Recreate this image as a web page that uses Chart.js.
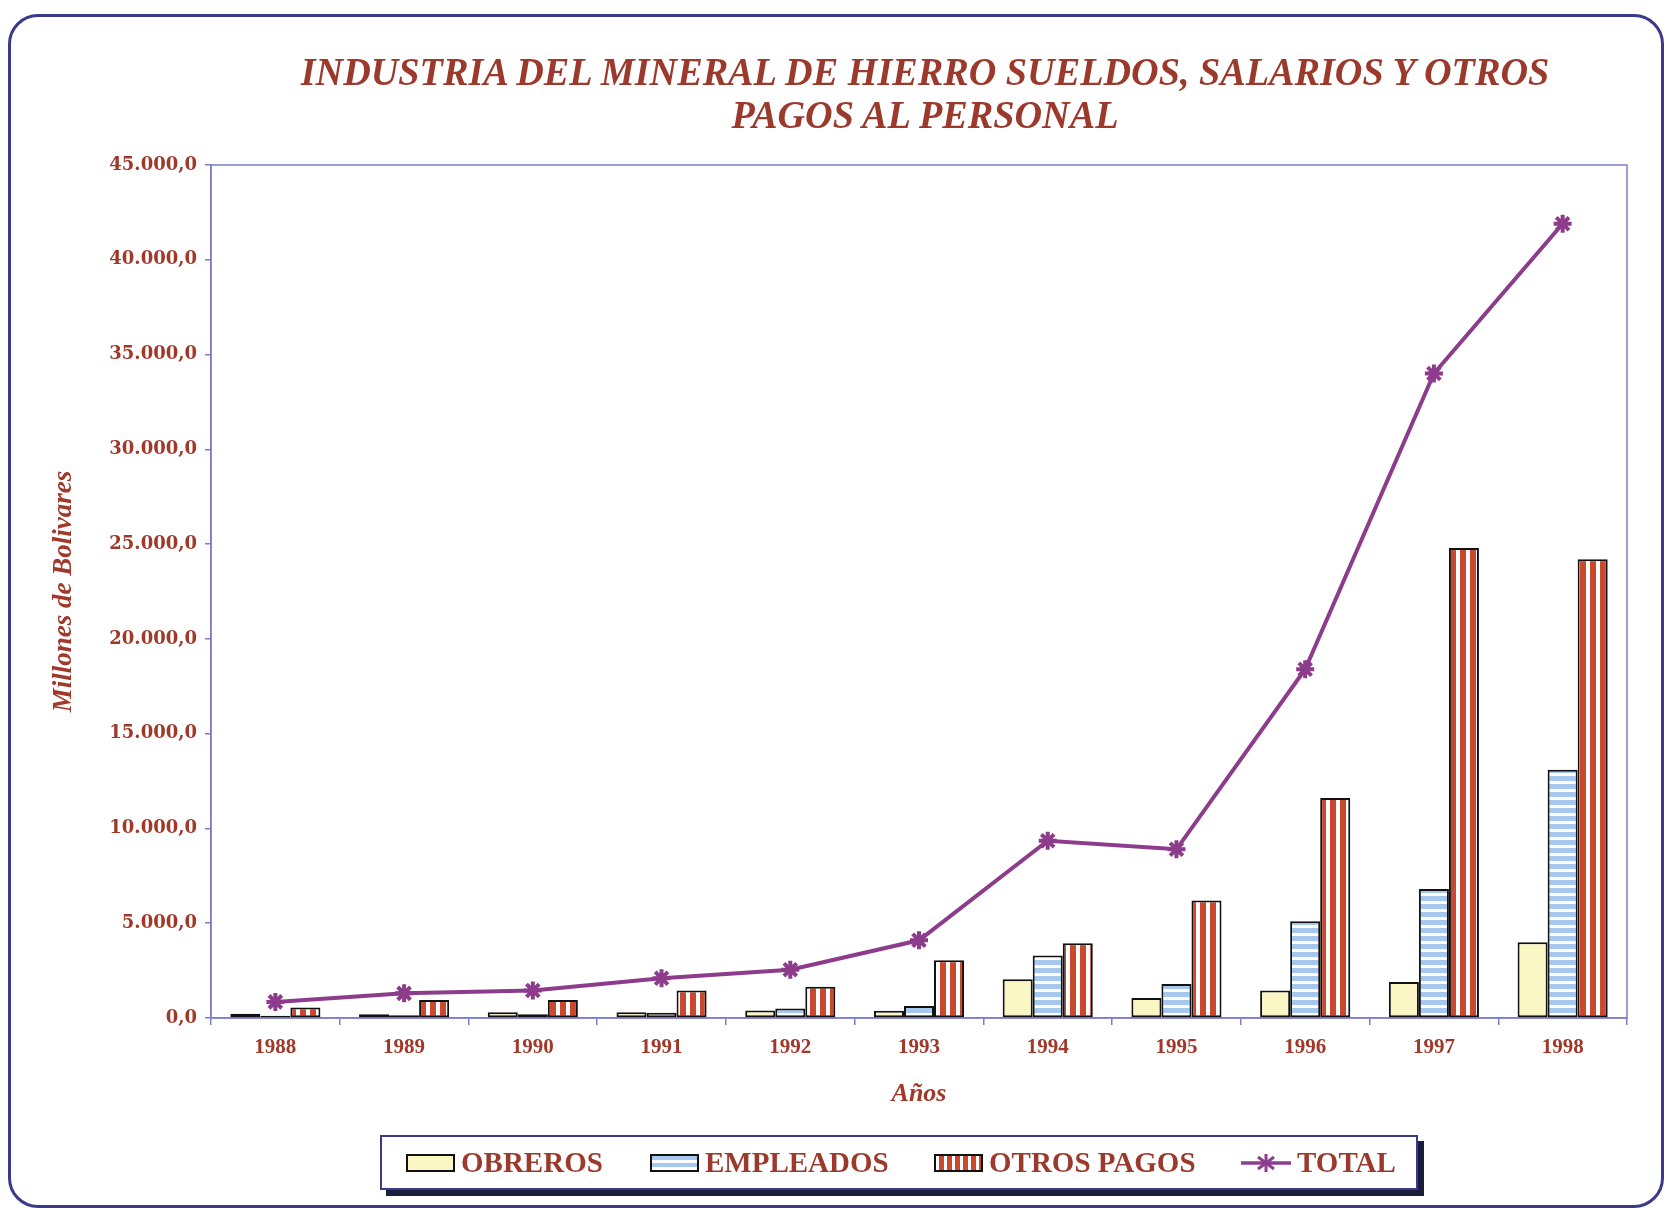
<!DOCTYPE html>
<html>
<head>
<meta charset="utf-8">
<script src="https://cdn.jsdelivr.net/npm/chart.js@4.4.1/dist/chart.umd.min.js"></script>
<style>
  html, body { margin: 0; padding: 0; background: #fff; }
  #page { position: relative; width: 1670px; height: 1210px; overflow: hidden; }
  #frame {
    position: absolute; left: 8px; top: 14px; width: 1656px; height: 1194px;
    box-sizing: border-box; border: 3px solid #3a3a8c; border-radius: 30px;
  }
  #chart { position: absolute; left: 0; top: 0; }
  .title {
    position: absolute; left: 925px; white-space: nowrap;
    font-family: "Liberation Serif", serif; font-weight: bold; font-style: italic;
    font-size: 40px; color: #9b3a2c; line-height: 1;
    transform: translateX(-50%) scaleX(0.955);
  }
  #legend {
    position: absolute; left: 380px; top: 1135px; width: 1038px; height: 55px;
    box-sizing: border-box; border: 2px solid #3a3a8c; background: #fff;
    box-shadow: 6px 6px 0 #1c1c3c;
  }
  .item { position: absolute; top: 0; height: 51px; display: flex; align-items: center; }
  .sw { width: 49px; height: 18px; box-sizing: border-box; border: 2px solid #111; margin-right: 6px; }
  .lab {
    font-family: "Liberation Serif", serif; font-weight: bold; font-size: 29px;
    color: #9b3a2c; line-height: 1;
  }
</style>
</head>
<body>
<div id="page">
  <div id="frame"></div>
  <canvas id="chart" width="1670" height="1210"></canvas>
  <div class="title" style="top:52px">INDUSTRIA DEL MINERAL DE HIERRO SUELDOS, SALARIOS Y OTROS</div>
  <div class="title" style="top:95px">PAGOS AL PERSONAL</div>
  <div id="legend">
    <div class="item" style="left:24px"><div class="sw" style="background:#faf7c4"></div><span class="lab">OBREROS</span></div>
    <div class="item" style="left:268px"><div class="sw" style="background:repeating-linear-gradient(to bottom,#a6c8ee 0 4px,#fff 4px 7px)"></div><span class="lab">EMPLEADOS</span></div>
    <div class="item" style="left:552px"><div class="sw" style="background:repeating-linear-gradient(to right,#fff 0 3px,#c9482e 3px 8px)"></div><span class="lab">OTROS PAGOS</span></div>
    <div class="item" style="left:859px">
      <svg width="50" height="20" style="margin-right:6px">
        <line x1="0" y1="10" x2="50" y2="10" stroke="#8b3d8e" stroke-width="3.5"/>
        <g stroke="#8b3d8e" stroke-width="3">
          <line x1="25" y1="1" x2="25" y2="19"/>
          <line x1="17" y1="4" x2="33" y2="16"/>
          <line x1="17" y1="16" x2="33" y2="4"/>
        </g>
      </svg><span class="lab">TOTAL</span></div>
  </div>
</div>
<script>
const years = ['1988', '1989', '1990', '1991', '1992', '1993', '1994', '1995', '1996', '1997', '1998'];
const obreros = [230, 200, 300, 300, 400, 380, 2050, 1050, 1450, 1900, 4000];
const empleados = [120, 150, 200, 280, 500, 630, 3300, 1800, 5100, 6800, 13100];
const otrosPagos = [550, 950, 950, 1450, 1650, 3050, 3950, 6200, 11600, 24800, 24200];
const total = [850, 1300, 1450, 2100, 2550, 4100, 9350, 8900, 18400, 34000, 41900];
const yMax = 45000;
const yStep = 5000;

const textColor = '#a0392a';
const axisColor = '#7c7cd0';
const lineColor = '#8d3c8c';

function stripes(w, h, bg, fg, draw) {
    const c = document.createElement('canvas');
    c.width = w; c.height = h;
    const g = c.getContext('2d');
    g.fillStyle = bg; g.fillRect(0, 0, w, h);
    g.fillStyle = fg; draw(g);
    return g.createPattern(c, 'repeat');
}
const bluePattern = stripes(8, 8, '#fff', '#a6c8ee', g => g.fillRect(0, 0, 8, 5));
const redPattern = stripes(10, 10, '#fff', '#c9482e', g => g.fillRect(0, 0, 6, 10));

function fmt(v) {
    const [i, d] = v.toFixed(1).split('.');
    return i.replace(/\B(?=(\d{3})+(?!\d))/g, '.') + ',' + d;
}

const plotBox = {
    id: 'plotBox',
    beforeDatasetsDraw(chart) {
        const a = chart.chartArea, ctx = chart.ctx;
        ctx.save();
        ctx.strokeStyle = axisColor;
        ctx.lineWidth = 1.5;
        ctx.strokeRect(a.left, a.top, a.right - a.left, a.bottom - a.top);
        ctx.restore();
    }
};

const ctx = document.getElementById('chart').getContext('2d');
new Chart(ctx, {
    type: 'bar',
    data: {
        labels: years,
        datasets: [
            {
                type: 'line', label: 'TOTAL', data: total, order: 0,
                borderColor: lineColor, borderWidth: 4, tension: 0, fill: false,
                pointStyle: 'star', pointRadius: 9, pointBorderWidth: 4,
                pointBorderColor: lineColor, pointBackgroundColor: lineColor
            },
            { label: 'OBREROS', data: obreros, order: 1, backgroundColor: '#faf7c4', borderColor: '#111', borderWidth: 2, borderSkipped: false },
            { label: 'EMPLEADOS', data: empleados, order: 1, backgroundColor: bluePattern, borderColor: '#111', borderWidth: 2, borderSkipped: false },
            { label: 'OTROS PAGOS', data: otrosPagos, order: 1, backgroundColor: redPattern, borderColor: '#111', borderWidth: 2, borderSkipped: false }
        ]
    },
    options: {
        responsive: false,
        animation: false,
        layout: { padding: { left: 40, top: 165, right: 43, bottom: 96 } },
        datasets: { bar: { categoryPercentage: 0.7, barPercentage: 1.0 } },
        plugins: { legend: { display: false }, tooltip: { enabled: false } },
        scales: {
            x: {
                afterFit: s => { s.height = 96; },
                grid: { drawOnChartArea: false, drawTicks: true, tickLength: 7, color: axisColor, lineWidth: 1.5 },
                border: { color: axisColor, width: 1.5 },
                ticks: { color: textColor, padding: 10, font: { family: 'Liberation Serif', weight: 'bold', size: 21 } },
                title: {
                    display: true, text: 'Años', color: textColor, padding: { top: 4, bottom: 4 },
                    font: { family: 'Liberation Serif', weight: 'bold', style: 'italic', size: 26 }
                }
            },
            y: {
                min: 0, max: yMax,
                afterFit: s => { s.width = 171; },
                grid: { drawOnChartArea: false, drawTicks: true, tickLength: 6, color: axisColor, lineWidth: 1.5 },
                border: { color: axisColor, width: 1.5 },
                ticks: {
                    stepSize: yStep, color: textColor, padding: 8,
                    font: { family: 'DejaVu Serif', weight: 'bold', size: 18 },
                    callback: v => fmt(v)
                },
                title: {
                    display: true, text: 'Millones de Bolivares', color: textColor, padding: { top: 8, bottom: 4 },
                    font: { family: 'Liberation Serif', weight: 'bold', style: 'italic', size: 27 }
                }
            }
        }
    },
    plugins: [plotBox]
});
</script>
</body>
</html>
